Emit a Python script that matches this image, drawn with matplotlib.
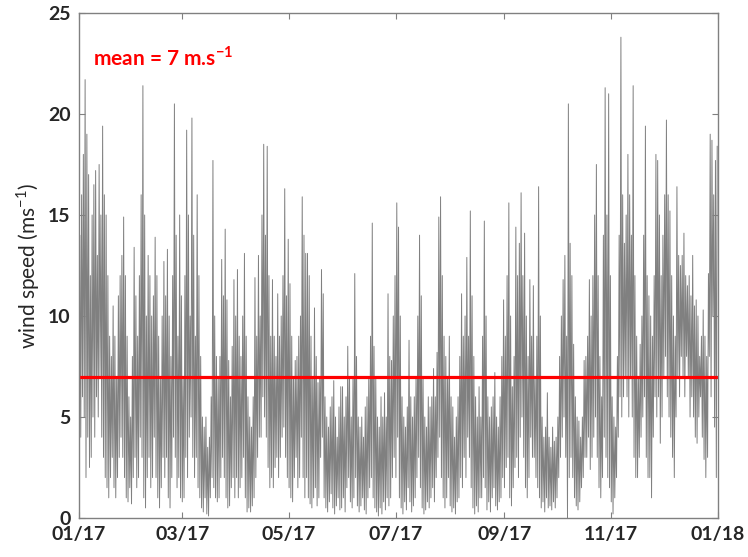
# 風速の時系列グラフ (2017年)

import numpy as np
import pandas as pd
import matplotlib
matplotlib.use('Agg')
import matplotlib.pyplot as plt
import matplotlib.dates as mdates

plt.rcParams['font.family'] = ['Lato', 'DejaVu Sans']
plt.rcParams['mathtext.fontset'] = 'custom'
plt.rcParams['mathtext.rm'] = 'Lato'
plt.rcParams['mathtext.bf'] = 'Lato:bold'

# 1日ごとの最大値・最小値 (図から読み取り, m/s)
daily_high = [
    14, 16, 18, 21.7, 19, 17, 12, 15, 16.5, 17.2,
    13, 17.5, 15, 19.4, 16, 15, 12, 9, 8, 10.5,
    9, 7, 11, 12, 13, 14.9, 12, 9, 6, 5,
    8, 13.4, 11, 9, 12, 16, 21.4, 15, 10, 13,
    12, 10, 11, 13.9, 12, 9, 7, 10, 12.7, 11,
    13.3, 10, 8, 12, 20.5, 14, 9, 15, 11, 7,
    12, 19.2, 15, 10, 19.8, 14, 9, 16, 12, 8,
    5, 4.5, 5, 3.5, 4, 6, 17.7, 10, 8, 7,
    8, 12.8, 11, 14.3, 10.8, 7.8, 6, 8.5, 11.8, 10,
    12.3, 9, 8, 10, 13.1, 9, 6, 5, 4.5, 6,
    11.9, 9, 13, 10, 15, 18.5, 14, 18.4, 12, 9,
    11.8, 9, 8, 11.1, 9, 10, 12, 16.3, 11, 13.8,
    11.6, 9, 7, 7.8, 8, 9, 10, 15.9, 14, 13.1,
    13.1, 12, 9, 7, 10.4, 8, 6.7, 7, 12.3, 11.1,
    6, 5, 4.5, 5.5, 6, 6.8, 5, 4, 5.5, 6.5,
    6.5, 5, 6, 8.5, 7, 5, 7, 12.1, 8, 5,
    4.5, 5, 4, 5.5, 6, 7, 9, 14.6, 8.5, 7,
    5, 4.5, 6, 5, 6.2, 5, 11.1, 8, 7.8, 10,
    12, 15.6, 14.4, 10, 6, 5, 4.5, 5.5, 8.8, 6,
    5, 6, 7, 10, 14, 11, 7, 5, 4.5, 6,
    5.5, 6, 7.4, 6, 8.2, 14.9, 15.9, 12, 9, 8,
    7, 9, 6, 5.5, 4, 5, 6, 8, 11.1, 9,
    10, 12.9, 9, 15.2, 11, 8, 6, 5, 6.5, 5,
    9, 14.7, 10, 6, 5, 5.5, 6, 7.2, 5, 4.5,
    6, 8, 10.8, 9, 12, 15.6, 10, 6.5, 8, 14.4,
    12, 13.6, 16.1, 12, 14.1, 10, 8, 11.8, 9, 11.5,
    7, 9, 16.4, 10, 5, 4, 4.5, 6.2, 4, 3.5,
    4.5, 3.8, 4, 5, 8, 10, 11.8, 13, 9, 20.5,
    13.6, 12, 8.6, 6, 5, 4.8, 4, 5, 7.8, 8,
    9, 11.8, 10, 12, 15, 17.5, 12, 8, 6, 14,
    21.3, 15, 21, 12, 6, 5, 4.5, 8, 14, 23.8,
    16, 13.6, 15, 18, 16, 14, 21.4, 12, 9, 7,
    8.6, 10, 14, 19.4, 12, 11, 10, 9, 12, 18,
    17.7, 15, 12, 14, 16, 19.7, 16, 15.2, 12, 10,
    9, 16.4, 13, 12.5, 13, 14.1, 12, 11.5, 12, 11,
    13, 10.5, 10.8, 10, 8, 9, 10.3, 9, 8, 12.1,
    19, 18.7, 16, 17.7, 18.4,
]
daily_low = [
    3, 4, 6, 5, 2, 4, 2.5, 3, 5, 4,
    6, 5, 7, 4, 3, 2, 1.5, 1, 2, 3,
    1.5, 1, 2, 3, 4, 3, 2, 1, 0.8, 1.5,
    0.7, 2, 3, 1.5, 2, 4, 3, 1, 0.5, 2,
    3, 1.5, 2, 4, 2, 1, 0.5, 1.5, 3, 2,
    3, 1, 0.5, 2, 4, 3, 1.5, 2, 1, 0.8,
    1, 3, 2, 4, 5, 3, 2, 3, 1.5, 1,
    0.5, 0.3, 1, 0.2, 0.1, 1, 2, 1.5, 1, 0.8,
    1, 2, 3, 2, 1, 0.5, 0.6, 1.5, 2, 1,
    2, 1, 1.5, 2, 3, 1, 0.3, 0.5, 0.3, 0.6,
    1, 2, 3, 4, 4, 6, 5, 4, 2.5, 1.5,
    2, 1.5, 2.5, 3, 2, 3, 4, 4.5, 3, 2,
    1.5, 1, 0.8, 2, 3, 1.5, 2, 4, 2, 1,
    2, 1, 0.7, 0.5, 1, 1.5, 0.6, 1, 3, 4,
    1, 0.5, 0.3, 0.8, 1.2, 0.5, 0.2, 0.6, 1, 0.4,
    0.5, 1, 0.3, 1.5, 2, 0.8, 0.5, 1, 2, 0.6,
    0.3, 0.6, 1, 0.4, 0.2, 1, 1.5, 2, 1, 0.5,
    0.3, 0.1, 0.5, 0.2, 0.8, 0.4, 1, 0.6, 1, 2,
    3, 2, 4, 1, 0.5, 0.2, 0.8, 0.4, 1.5, 0.8,
    0.3, 0.6, 1, 2, 3, 1.5, 0.5, 0.2, 0.4, 0.8,
    0.5, 1, 1.5, 0.8, 2, 3, 4, 2, 1, 0.5,
    1, 2, 0.6, 0.3, 0.5, 0.2, 0.8, 1, 2, 1.5,
    3, 2, 4, 3, 1.5, 0.5, 0.2, 0.6, 0.3, 1,
    1, 2, 1.5, 0.4, 0.8, 0.3, 1, 1.5, 0.6, 0.4,
    0.8, 1, 2, 1.5, 2.5, 3, 1, 0.6, 1.5, 2.5,
    3, 2, 4, 5, 3, 1.5, 1, 2, 4, 3,
    3, 2, 1.5, 1, 0.5, 0.8, 0.3, 1, 0.5, 0.6,
    0.4, 0.8, 0.5, 1, 2, 3, 4, 5, 3, 0,
    2, 3, 2, 1, 0.6, 0.4, 0.8, 1.5, 2, 3,
    3, 4, 2.4, 3, 4, 5, 3, 1.5, 1, 2,
    4, 3, 2, 1.5, 0.8, 0.2, 1, 2, 4, 6,
    5, 6, 7, 6, 5, 7, 5, 3, 2, 2,
    3, 4, 5, 6, 3, 2, 2, 1, 4, 6,
    5, 6, 3.7, 5, 7, 8, 6, 5, 4, 3,
    2, 5, 7, 6, 8, 7, 6, 8, 7, 5,
    6, 5, 4, 3.7, 5, 6, 4, 2.9, 2, 3,
    8, 6, 10, 4.5, 2,
]
mean_speed = 7

month_ticks = pd.date_range('2017-01-01', '2018-01-01', freq='2MS')

# 12時間ごとに最小値・最大値を交互に並べる
speed = np.column_stack([daily_low, daily_high]).ravel()
times = pd.date_range('2017-01-01', periods=len(speed), freq='12h')

fig = plt.figure(figsize=(7.48, 5.57), dpi=100)
ax = fig.add_axes([0.1056, 0.070, 0.8544, 0.9067])

ax.plot(times, speed, color='#808080', linewidth=0.7)
ax.axhline(mean_speed, color='#ff0000', linewidth=2.3)

ax.text(times[16], 22.8, 'mean = 7 m.s$^{\\mathbf{-1}}$', color='#ff0000',
        fontsize=15, fontweight='bold', va='center', ha='left')

ax.set_xlim(month_ticks[0], month_ticks[-1])
ax.set_ylim(0, 25)
ax.set_xticks(month_ticks)
ax.xaxis.set_major_formatter(mdates.DateFormatter('%m/%y'))
ax.set_yticks(range(0, 26, 5))
ax.set_ylabel('wind speed (ms$^{-1}$)', fontsize=15, color='#262626', labelpad=4)

for spine in ax.spines.values():
    spine.set_color('#808080')
    spine.set_linewidth(1.0)
ax.tick_params(direction='in', top=True, right=True, length=4, color='#808080',
               labelsize=14, labelcolor='#262626', pad=6)
for lab in ax.get_xticklabels() + ax.get_yticklabels():
    lab.set_fontweight('bold')

plt.savefig('out.png', dpi=100)
